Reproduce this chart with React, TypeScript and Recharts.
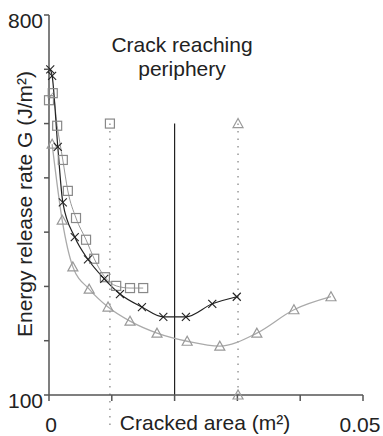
import { ComposedChart, Line, Scatter, XAxis, YAxis, ReferenceLine } from 'recharts';

// cracked area (m²) and energy release rate G (J/m²)
const crossArea = [0.0002, 0.0005, 0.0014, 0.0022, 0.0041, 0.0062, 0.0088, 0.0113, 0.0148, 0.0182, 0.0218, 0.026, 0.0299];
const crossG = [700, 688, 557, 455, 391, 350, 314, 286, 262, 244, 244, 268, 281];

const squareArea = [0.0, 0.0006, 0.0013, 0.0022, 0.003, 0.0043, 0.0059, 0.0072, 0.0089, 0.0107, 0.0129, 0.015];
const squareG = [643, 656, 596, 533, 476, 426, 386, 351, 317, 301, 297, 297];

const triangleArea = [0.0005, 0.0021, 0.0038, 0.0064, 0.0094, 0.0129, 0.0172, 0.022, 0.0272, 0.0331, 0.039, 0.0449];
const triangleG = [562, 422, 336, 295, 262, 236, 214, 199, 190, 214, 257, 281];

// periphery markers
const squarePeriphery = [{ area: 0.0097, g: 600 }];
const trianglePeriphery = [
  { area: 0.0301, g: 600 },
  { area: 0.0301, g: 100 },
];
const crackReachArea = 0.02;

const xTicks = [0, 0.01, 0.02, 0.03, 0.04, 0.05];
const yTicks = [100, 200, 300, 400, 500, 600, 700, 800];
const xLabels: Record<number, string> = { 0: '0', 0.05: '0.05' };
const yLabels: Record<number, string> = { 100: '100', 800: '800' };

const FONT = '"Liberation Sans", Arial, sans-serif';
const TEXT = '#222';
const AXIS = '#555';

const zip = (xs: number[], ys: number[]) => xs.map((area, i) => ({ area, g: ys[i] }));

function Cross({ cx, cy }: any) {
  const s = 4;
  return (
    <g stroke="#222" strokeWidth={1.1}>
      <line x1={cx - s} y1={cy - s} x2={cx + s} y2={cy + s} />
      <line x1={cx - s} y1={cy + s} x2={cx + s} y2={cy - s} />
    </g>
  );
}

function Square({ cx, cy }: any) {
  return <rect x={cx - 4.5} y={cy - 4.5} width={9} height={9} fill="#fff" fillOpacity={0} stroke="#888" strokeWidth={1.2} />;
}

function Triangle({ cx, cy }: any) {
  return (
    <polygon
      points={`${cx},${cy - 5} ${cx - 5},${cy + 4} ${cx + 5},${cy + 4}`}
      fill="#fff"
      fillOpacity={0}
      stroke="#999"
      strokeWidth={1.2}
    />
  );
}

function XTick({ x, y, payload }: any) {
  const t = xLabels[payload.value];
  if (!t) return null;
  const dx = payload.value === 0.05 ? -3 : 2;
  return (
    <text x={x + dx} y={y + 29} textAnchor="middle" fontSize={21} fontFamily={FONT} fill={TEXT}>
      {t}
    </text>
  );
}

function YTick({ x, y, payload }: any) {
  const t = yLabels[payload.value];
  if (!t) return null;
  return (
    <text x={x + 1} y={y + 13} textAnchor="end" fontSize={21} fontFamily={FONT} fill={TEXT}>
      {t}
    </text>
  );
}

export default function App() {
  return (
    <div style={{ position: 'absolute', left: 0, top: 0, width: 383, height: 436, background: '#fff' }}>
      <ComposedChart width={383} height={436} margin={{ top: 15, right: 20, bottom: 0, left: 0 }}>
        <XAxis
          type="number"
          dataKey="area"
          domain={[0, 0.05]}
          ticks={xTicks}
          tick={<XTick />}
          tickSize={6}
          height={41}
          stroke={AXIS}
          strokeWidth={1.5}
        />
        <YAxis
          type="number"
          dataKey="g"
          domain={[100, 800]}
          ticks={yTicks}
          tick={<YTick />}
          tickSize={5}
          width={49}
          stroke={AXIS}
          strokeWidth={1.5}
        />
        <ReferenceLine
          segment={[{ x: crackReachArea, y: 600 }, { x: crackReachArea, y: 100 }]}
          stroke="#222"
          strokeWidth={1.2}
        />
        <ReferenceLine
          segment={[{ x: squarePeriphery[0].area, y: 600 }, { x: squarePeriphery[0].area, y: 35 }]}
          stroke="#999"
          strokeWidth={1.5}
          strokeDasharray="1.5 6"
          ifOverflow="visible"
        />
        <ReferenceLine
          segment={[{ x: trianglePeriphery[0].area, y: 600 }, { x: trianglePeriphery[0].area, y: 100 }]}
          stroke="#999"
          strokeWidth={1.5}
          strokeDasharray="1.5 6"
        />
        <Line
          data={zip(triangleArea, triangleG)}
          dataKey="g"
          type="monotone"
          stroke="#aaa"
          strokeWidth={1.3}
          dot={<Triangle />}
          isAnimationActive={false}
        />
        <Line
          data={zip(squareArea, squareG)}
          dataKey="g"
          type="monotone"
          stroke="#999"
          strokeWidth={1}
          dot={<Square />}
          isAnimationActive={false}
        />
        <Line
          data={zip(crossArea, crossG)}
          dataKey="g"
          type="monotone"
          stroke="#222"
          strokeWidth={1.2}
          dot={<Cross />}
          isAnimationActive={false}
        />
        <Scatter data={squarePeriphery} dataKey="g" shape={<Square />} isAnimationActive={false} />
        <Scatter data={trianglePeriphery} dataKey="g" shape={<Triangle />} isAnimationActive={false} />
      </ComposedChart>
      <svg width={383} height={436} style={{ position: 'absolute', left: 0, top: 0, pointerEvents: 'none' }}>
        <g fontFamily={FONT} fontSize={21} fill={TEXT} textAnchor="middle">
          <text x={182} y={52}>Crack reaching</text>
          <text x={182} y={76}>periphery</text>
          <text x={205} y={430}>Cracked area (m²)</text>
          <text x={32} y={204} transform="rotate(-90, 32, 204)">Energy release rate G (J/m²)</text>
        </g>
      </svg>
    </div>
  );
}
